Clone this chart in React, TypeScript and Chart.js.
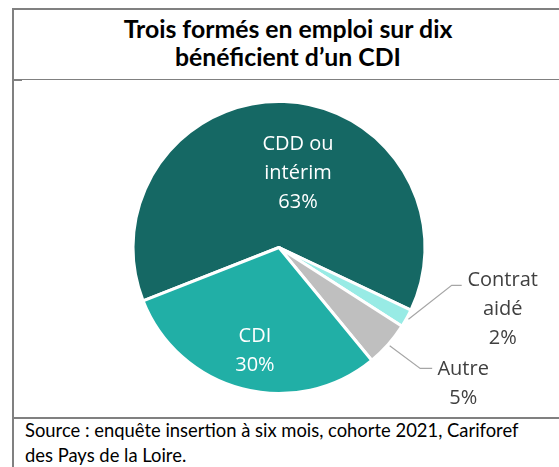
import React, { useEffect, useRef } from "react";
import { Chart, registerables } from "chart.js";

Chart.register(...registerables);

// ---- Data ----
const titleLines = ["Trois formés en emploi sur dix", "bénéficient d’un CDI"];
const sourceLines = [
  "Source : enquête insertion à six mois, cohorte 2021, Cariforef",
  "des Pays de la Loire.",
];
const categories = ["CDD ou intérim", "Contrat aidé", "Autre", "CDI"];
const categoryLabelLines = [["CDD ou", "intérim"], ["Contrat", "aidé"], ["Autre"], ["CDI"]];
const values = [63, 2, 5, 30];
const sliceColors = ["#156864", "#98EBE5", "#BFBFBF", "#21AFA6"];

// ---- Label layout (styling, not data) ----
type Layout =
  | { inside: true; frac: number; nudge: number; color: string }
  | {
      inside: false;
      elbowDx: number;
      elbowDy: number;
      tail: number;
      textDx: number;
      textDy: number;
      color: string;
    };

const labelLayout: Layout[] = [
  { inside: true, frac: 0.523, nudge: 12.4, color: "#ffffff" },
  { inside: false, elbowDx: 45, elbowDy: -33, tail: 10, textDx: 41, textDy: -5, color: "#404040" },
  { inside: false, elbowDx: 32, elbowDy: 24, tail: 12, textDx: 31, textDy: 1, color: "#404040" },
  { inside: true, frac: 0.727, nudge: -1.5, color: "#ffffff" },
];

const LINE_H = 29;
const LABEL_FONT = '20px "Open Sans"';

const sliceLabelPlugin = {
  id: "sliceLabels",
  afterDatasetsDraw(chart: any) {
    const ctx = chart.ctx as CanvasRenderingContext2D;
    const meta = chart.getDatasetMeta(0);
    meta.data.forEach((arc: any, i: number) => {
      const p = arc.getProps(["x", "y", "startAngle", "endAngle", "outerRadius"], true);
      const mid = (p.startAngle + p.endAngle) / 2;
      const lay = labelLayout[i];
      const lines = [...categoryLabelLines[i], `${values[i]}%`];
      ctx.save();
      ctx.font = LABEL_FONT;
      ctx.textAlign = "center";
      ctx.textBaseline = "middle";
      ctx.fillStyle = lay.color;
      if (lay.inside) {
        const a = mid + (lay.nudge * Math.PI) / 180;
        const cx = p.x + Math.cos(a) * p.outerRadius * lay.frac;
        const cy = p.y + Math.sin(a) * p.outerRadius * lay.frac;
        const n = lines.length;
        lines.forEach((t, k) => ctx.fillText(t, cx, cy + (k - (n - 1) / 2) * LINE_H));
      } else {
        const ex = p.x + Math.cos(mid) * p.outerRadius;
        const ey = p.y + Math.sin(mid) * p.outerRadius;
        const sx = p.x + Math.cos(mid) * (p.outerRadius + 2);
        const sy = p.y + Math.sin(mid) * (p.outerRadius + 2);
        const bx = ex + lay.elbowDx;
        const by = ey + lay.elbowDy;
        const tx = bx + lay.tail;
        ctx.strokeStyle = "#A6A6A6";
        ctx.lineWidth = 1.2;
        ctx.beginPath();
        ctx.moveTo(sx, sy);
        ctx.lineTo(bx, by);
        ctx.lineTo(tx, by);
        ctx.stroke();
        lines.forEach((t, k) => ctx.fillText(t, tx + lay.textDx, by + lay.textDy + k * LINE_H));
      }
      ctx.restore();
    });
  },
};

const GRAY = "#808080";

export default function App() {
  const canvasRef = useRef<HTMLCanvasElement | null>(null);

  useEffect(() => {
    if (!canvasRef.current) return;
    const chart = new Chart(canvasRef.current, {
      type: "pie",
      data: {
        labels: categories,
        datasets: [
          {
            data: values,
            backgroundColor: sliceColors,
            borderColor: "#ffffff",
            borderWidth: 3,
          },
        ],
      },
      options: {
        animation: false,
        responsive: false,
        maintainAspectRatio: false,
        rotation: 248.6,
        layout: { padding: { left: 20, right: 35, top: 19, bottom: 18 } },
        plugins: {
          legend: { display: false },
          tooltip: { enabled: false },
          title: { display: false },
        },
      },
      plugins: [sliceLabelPlugin],
    });
    return () => chart.destroy();
  }, []);

  return (
    <div
      style={{
        position: "absolute",
        left: 0,
        top: 0,
        width: 559,
        height: 467,
        overflow: "hidden",
        background: "#ffffff",
      }}
    >
      {/* frame */}
      <div style={{ position: "absolute", left: 12, top: 8, width: 560, height: 2, background: GRAY }} />
      <div style={{ position: "absolute", left: 12, top: 8, width: 2, height: 470, background: GRAY }} />
      <div style={{ position: "absolute", left: 14, top: 79, width: 560, height: 1, background: GRAY }} />
      <div style={{ position: "absolute", left: 14, top: 79, width: 8, height: 2, background: GRAY }} />
      <div style={{ position: "absolute", left: 14, top: 417, width: 560, height: 2, background: GRAY }} />

      {/* title */}
      <div
        style={{
          position: "absolute",
          left: 14,
          top: 15,
          width: 548,
          textAlign: "center",
          fontFamily: "Lato, sans-serif",
          fontWeight: 700,
          fontSize: 24.8,
          lineHeight: "28px",
          color: "#000",
          whiteSpace: "nowrap",
        }}
      >
        {titleLines.map((l, i) => (
          <div key={i}>{l}</div>
        ))}
      </div>

      {/* chart */}
      <canvas
        ref={canvasRef}
        width={545}
        height={332}
        style={{ position: "absolute", left: 14, top: 81, width: 545, height: 332 }}
      />

      {/* source */}
      <div
        style={{
          position: "absolute",
          left: 25,
          top: 418,
          width: 560,
          fontFamily: "Lato, sans-serif",
          fontSize: 18.4,
          lineHeight: "25px",
          color: "#000",
          whiteSpace: "nowrap",
        }}
      >
        {sourceLines.map((l, i) => (
          <div key={i}>{l}</div>
        ))}
      </div>
    </div>
  );
}
